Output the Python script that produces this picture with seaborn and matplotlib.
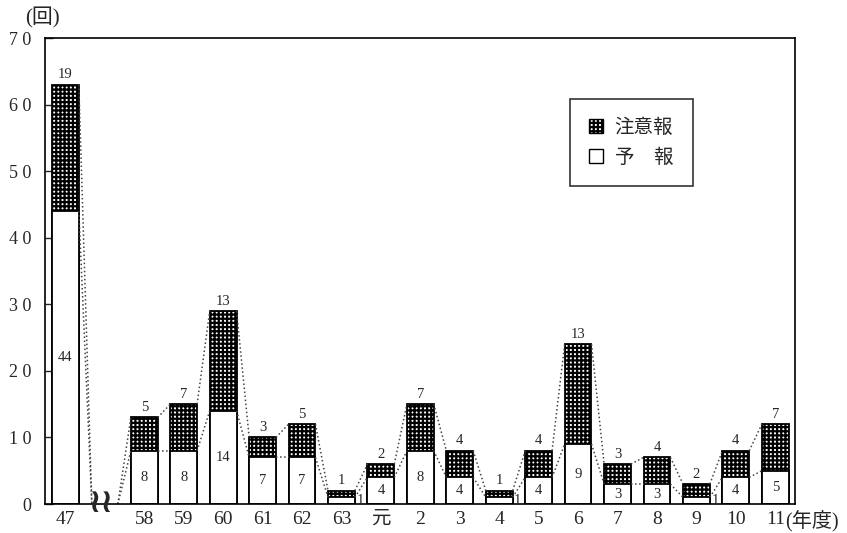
import matplotlib
matplotlib.use("Agg")
import pandas as pd
import seaborn as sns
import matplotlib.pyplot as plt
from matplotlib.patches import Patch

# 年度ごとの発表回数（予報・注意報）
years = ['47', '58', '59', '60', '61', '62', '63', '元', '2', '3', '4',
         '5', '6', '7', '8', '9', '10', '11']
yoho = [44, 8, 8, 14, 7, 7, 1, 4, 8, 4, 1, 4, 9, 3, 3, 1, 4, 5]
# 図中に書かれた注意報の回数
chuiho_labels = [19, 5, 7, 13, 3, 5, 1, 2, 7, 4, 1, 4, 13, 3, 4, 2, 4, 7]
# 棒の高さ（図から読み取り：60・6年度の棒は表示値より高く描かれている）
chuiho = [19, 5, 7, 15, 3, 5, 1, 2, 7, 4, 1, 4, 15, 3, 4, 2, 4, 7]
yticks = [0, 10, 20, 30, 40, 50, 60, 70]

gap = ' '  # 48〜57年度は省略
order = [years[0], gap] + years[1:]

df = pd.DataFrame({'year': years, 'yoho': yoho, 'chuiho': chuiho})
df['total'] = df['yoho'] + df['chuiho']

sns.set_style('ticks')
plt.rcParams['font.family'] = ['Liberation Serif', 'Noto Sans CJK JP']
plt.rcParams['hatch.linewidth'] = 1.6

fig, ax = plt.subplots(figsize=(8.47, 5.33), dpi=100)
fig.subplots_adjust(left=0.053, right=0.9386, bottom=0.0544, top=0.9287)

w = 0.68
# 合計（注意報部分の網掛け）
sns.barplot(data=df, x='year', y='total', order=order, color='white',
            saturation=1, width=w, edgecolor='black', linewidth=1.3,
            hatch='++++', ax=ax)
# 予報部分（白）
sns.barplot(data=df, x='year', y='yoho', order=order, color='white',
            saturation=1, width=w, edgecolor='black', linewidth=1.3, ax=ax)

pos = [order.index(y) for y in years]

# 点線でつなぐ
lkw = dict(color='#444444', linestyle=':', linewidth=1.1)
for i in range(1, len(years) - 1):
    x0 = pos[i] + w / 2
    x1 = pos[i + 1] - w / 2
    ax.plot([x0, x1], [df['total'][i], df['total'][i + 1]], **lkw)
    ax.plot([x0, x1], [yoho[i], yoho[i + 1]], **lkw)
# 省略区間の前後
g = order.index(gap)
for v in (df['total'][0], yoho[0]):
    ax.plot([pos[0] + w / 2, g - 0.33], [v, 0], **lkw)
for v in (df['total'][1], yoho[1]):
    ax.plot([g + 0.33, pos[1] - w / 2], [0, v], **lkw)
ax.text(g - 0.1, 0.2, '≀≀', ha='center', va='center', fontsize=24,
        fontweight='bold', family='DejaVu Sans')

# 数値ラベル
for i in range(len(years)):
    ax.text(pos[i], df['total'][i] + 0.5, str(chuiho_labels[i]),
            ha='center', va='bottom', fontsize=10.5)
    if yoho[i] >= 2:
        ax.text(pos[i], yoho[i] / 2, str(yoho[i]), ha='center', va='center',
                fontsize=10.5)
    else:
        ax.text(pos[i] + w / 2 + 0.04, 0.5, str(yoho[i]), ha='left',
                va='center', fontsize=10.5)

ax.set_xlim(-0.52, len(order) - 0.5)
ax.set_ylim(0, 70)
ax.set_yticks(yticks)
ax.set_yticklabels([' '.join(str(t)) for t in yticks], fontsize=13)
ax.tick_params(axis='y', direction='in', length=6, width=1, pad=10)
ax.tick_params(axis='x', length=0, labelsize=14, pad=5)
ax.set_xlabel('')
ax.set_ylabel('')
for s in ax.spines.values():
    s.set_visible(True)
    s.set_linewidth(1.2)
    s.set_color('black')

ax.text(-0.003, 1.02, '(回)', transform=ax.transAxes, ha='center',
        va='bottom', fontsize=15)
ax.text(pos[-1] + 0.25, -0.013, '(年度)', transform=ax.get_xaxis_transform(),
        ha='left', va='top', fontsize=14.5)

handles = [Patch(facecolor='white', edgecolor='black', hatch='++++',
                 label='注意報'),
           Patch(facecolor='white', edgecolor='black', label='予\u3000報')]
leg = ax.legend(handles=handles, loc='upper left', bbox_to_anchor=(0.70, 0.869),
                fontsize=14, frameon=True, fancybox=False, edgecolor='black',
                borderpad=1.0, labelspacing=0.6, handlelength=0.7,
                handleheight=0.7, handletextpad=0.6, borderaxespad=0)
leg.get_frame().set_linewidth(1.2)

fig.savefig('out.png', dpi=100)
